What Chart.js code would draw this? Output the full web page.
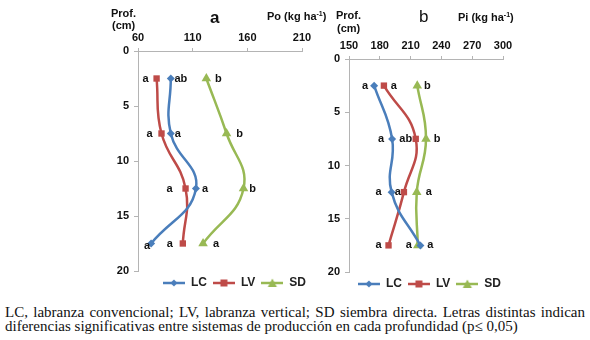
<!DOCTYPE html>
<html>
<head>
<meta charset="utf-8">
<script src="https://cdn.jsdelivr.net/npm/chart.js@4"></script>
<style>
  html,body{margin:0;padding:0;background:#fff;}
  body{width:590px;height:340px;position:relative;overflow:hidden;font-family:"Liberation Sans",Arial,sans-serif;}
  .cv{position:absolute;top:0;}
  .t{position:absolute;font-weight:bold;color:#111;white-space:nowrap;line-height:1;}
  .s{font-size:11px;}
  sup{font-size:7px;vertical-align:4px;}
  #cap{position:absolute;left:5px;top:305px;width:580px;font-family:"Liberation Serif","Times New Roman",serif;font-size:15px;line-height:14px;color:#111;text-align:justify;text-align-last:left;}
</style>
</head>
<body>
<div class="cv" style="left:0;width:315px;height:300px;"><canvas id="ca" width="315" height="300"></canvas></div>
<div class="cv" style="left:315px;width:275px;height:300px;"><canvas id="cb" width="275" height="300"></canvas></div>

<div class="t s" style="left:111px;top:8px;">Prof.</div>
<div class="t s" style="left:112px;top:20px;">(cm)</div>
<div class="t" style="left:210px;top:9px;font-size:17px;">a</div>
<div class="t s" style="left:267px;top:10px;">Po (kg ha<sup>-1</sup>)</div>

<div class="t s" style="left:336px;top:10px;">Prof.</div>
<div class="t s" style="left:337px;top:23px;">(cm)</div>
<div class="t" style="left:419px;top:8px;font-size:17px;font-weight:normal;">b</div>
<div class="t s" style="left:458px;top:11px;">Pi (kg ha<sup>-1</sup>)</div>

<div id="cap">LC, labranza convencional; LV, labranza vertical; SD siembra directa. Letras distintas indican diferencias significativas entre sistemas de producción en cada profundidad (p≤ 0,05)</div>

<script>
// ---------- data ----------
const depths = [2.5, 7.5, 12.5, 17.5];
const seriesNames = ['LC', 'LV', 'SD'];
const depthTicks = [0, 5, 10, 15, 20];

const poTicks = [60, 110, 160, 210];
const poLC = [90, 90, 113, 72];
const poLV = [77, 81.5, 103.5, 101];
const poSD = [122.5, 141, 156.5, 119.5];
const poLetLC = ['ab', 'a', 'a', 'a'];
const poLetLV = ['a', 'a', 'a', 'a'];
const poLetSD = ['b', 'b', 'b', 'a'];

const piTicks = [150, 180, 210, 240, 270, 300];
const piLC = [174.5, 192, 191.5, 219.5];
const piLV = [184, 215, 203.5, 188.5];
const piSD = [216.5, 225, 216, 217];
const piLetLC = ['a', 'a', 'a', 'a'];
const piLetLV = ['a', 'ab', 'a', 'a'];
const piLetSD = ['b', 'b', 'a', 'a'];

// ---------- style ----------
const colors = ['#4a7ebb', '#be4b48', '#98b954'];
const pStyles = ['rectRot', 'rect', 'triangle'];
const pRadius = [4, 4.5, 5.5];
const FONT = '"Liberation Sans", Arial, sans-serif';
// label offsets (pixels) relative to each point
const poOff = [[10, 7, 9, -4], [-11, -12, -16, -13], [12, 13, 9, 13]];
const poOffY = [[0, 0, 0, 2], [0, 0, 0, 0], [0, 0, 0, 0]];
const piOff = [[-9, -11, -13, 10], [10, -10, -6, -10], [10, 11, 12, -9]];
const piOffY = [[0, 0, 0, 0], [0, 0, 0, 0], [0, 0, 0, 0]];

function legendIcon(i) {
  const c = document.createElement('canvas');
  c.width = 22; c.height = 10;
  const g = c.getContext('2d');
  g.strokeStyle = colors[i]; g.lineWidth = 2.5;
  g.beginPath(); g.moveTo(0, 5); g.lineTo(22, 5); g.stroke();
  g.fillStyle = colors[i];
  g.beginPath();
  if (i === 0) { g.moveTo(11, 1.5); g.lineTo(14.5, 5); g.lineTo(11, 8.5); g.lineTo(7.5, 5); }
  else if (i === 1) { g.rect(7.5, 1.5, 7, 7); }
  else { g.moveTo(11, 0.5); g.lineTo(15.5, 9); g.lineTo(6.5, 9); }
  g.closePath(); g.fill();
  return c;
}
const icons = [0, 1, 2].map(legendIcon);

const letterPlugin = {
  id: 'letters',
  afterDatasetsDraw(chart, args, opts) {
    const ctx = chart.ctx;
    ctx.save();
    ctx.font = 'bold 11px ' + FONT;
    ctx.fillStyle = '#111';
    ctx.textAlign = 'center';
    ctx.textBaseline = 'middle';
    opts.letters.forEach((arr, d) => {
      const meta = chart.getDatasetMeta(d);
      arr.forEach((txt, i) => {
        const el = meta.data[i];
        ctx.fillText(txt, el.x + opts.dx[d][i], el.y + opts.dy[d][i]);
      });
    });
    ctx.restore();
  }
};

function makeChart(id, vals, letters, dx, dy, xTicks, xMin, xMax, pad, rightGap) {
  const datasets = vals.map((v, d) => ({
    label: seriesNames[d],
    data: depths.map((y, i) => ({ x: v[i], y: y })),
    borderColor: colors[d],
    backgroundColor: colors[d],
    borderWidth: 2.5,
    showLine: true,
    tension: 0.45,
    pointStyle: pStyles[d],
    pointRadius: pRadius[d],
    pointBorderWidth: 0
  }));
  return new Chart(document.getElementById(id), {
    type: 'scatter',
    data: { datasets },
    plugins: [letterPlugin],
    options: {
      responsive: false,
      animation: false,
      layout: { padding: pad },
      plugins: {
        tooltip: { enabled: false },
        letters: { letters, dx, dy },
        legend: {
          position: 'bottom',
          align: 'end',
          fullSize: true,
          labels: {
            usePointStyle: true,
            pointStyleWidth: 22,
            padding: 6,
            color: '#222',
            font: { family: FONT, size: 12, weight: 'bold' },
            generateLabels: (chart) => seriesNames.map((n, i) => ({
              text: n, pointStyle: icons[i], datasetIndex: i, hidden: false,
              fontColor: '#222', lineWidth: 0, strokeStyle: 'transparent', fillStyle: 'transparent'
            }))
          }
        }
      },
      scales: {
        x: {
          type: 'linear', position: 'top', min: xMin, max: xMax,
          afterBuildTicks: (s) => { s.ticks = xTicks.map(v => ({ value: v })); },
          afterFit: (s) => { s.height = 22; },
          border: { color: '#b4b4b4', width: 1 },
          grid: { drawOnChartArea: false, tickLength: 3, color: '#b4b4b4' },
          ticks: { color: '#111', font: { family: FONT, size: 11, weight: 'bold' }, padding: 3, maxRotation: 0 }
        },
        y: {
          type: 'linear', reverse: true, min: 0, max: 20,
          afterBuildTicks: (s) => { s.ticks = depthTicks.map(v => ({ value: v })); },
          afterFit: (s) => { s.width = 30; },
          border: { color: '#b4b4b4', width: 1 },
          grid: { drawOnChartArea: false, tickLength: 4, color: '#b4b4b4' },
          ticks: { color: '#111', font: { family: FONT, size: 11, weight: 'bold' }, padding: 5 }
        },
        yGap: {
          axis: 'y', type: 'linear', position: 'right', display: true,
          afterFit: (s) => { s.width = rightGap; },
          border: { display: false },
          grid: { display: false },
          ticks: { display: false }
        }
      }
    }
  });
}

makeChart('ca', [poLC, poLV, poSD], [poLetLC, poLetLV, poLetSD], poOff, poOffY, poTicks, 60, 210,
  { left: 108, top: 29, right: 3, bottom: 1 }, 10);
makeChart('cb', [piLC, piLV, piSD], [piLetLC, piLetLV, piLetSD], piOff, piOffY, piTicks, 150, 300,
  { left: 4, top: 37, right: 83, bottom: 0 }, 4);
</script>
</body>
</html>
